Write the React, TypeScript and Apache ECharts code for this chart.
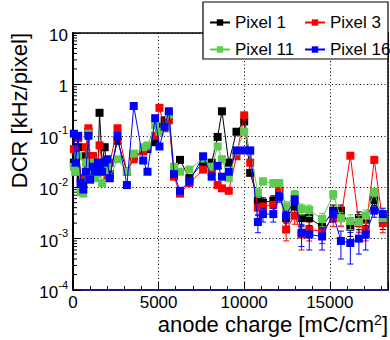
import React, { useEffect, useRef } from "react";
import * as echarts from "echarts";

const seriesNames = ["Pixel 1", "Pixel 3", "Pixel 11", "Pixel 16"];
const seriesColors = ["#000000", "#ff0000", "#5ccb4e", "#0000ff"];

const charge = [
  50, 150, 300, 450, 600, 750, 900, 1000, 1150, 1300, 1450, 1550, 1700, 1850, 2000, 2150,
  2600, 3150, 3550, 4100, 4350, 4800, 5050, 5350, 5600, 5900, 6250, 6800, 7600, 8100, 8450,
  8700, 9100, 9550, 10000, 10350, 10800, 11100, 11700, 12050, 12450, 12950, 13350, 13800,
  14550, 15200, 15650, 16200, 16700, 17100, 17600, 18100,
];

const pixel1 = [
  0.03, 0.025, 0.06, 0.015, 0.012, 0.04, 0.12, 0.03, 0.04, 0.025, 0.02, 0.28, 0.03, 0.06, 0.02, 0.018,
  0.08, 0.02, 0.04, 0.05, 0.055, 0.075, 0.15, 0.2, 0.25, 0.018, 0.034, 0.015, 0.03, 0.03, 0.095,
  0.3, 0.03, 0.12, 0.19, 0.019, 0.0056, 0.005, 0.0055, 0.008, 0.0025, 0.0042, 0.0025, 0.0025,
  0.0017, 0.0035, 0.0035, 0.0017, 0.0025, 0.0023, 0.0056, 0.0023,
];
const pixel3 = [
  0.055, 0.02, 0.09, 0.012, 0.015, 0.06, 0.14, 0.04, 0.04, 0.03, 0.025, 0.065, 0.03, 0.022, 0.015, 0.03,
  0.14, 0.02, 0.035, 0.05, 0.06, 0.1, 0.35, 0.14, 0.2, 0.016, 0.0075, 0.012, 0.022, 0.02, 0.011,
  0.0095, 0.0085, 0.04, 0.25, 0.03, 0.004, 0.0042, 0.0045, 0.0095, 0.0015, 0.0028, 0.0012, 0.0015,
  0.0014, 0.0025, 0.0025, 0.041, 0.002, 0.0015, 0.034, 0.002,
];
const pixel11 = [
  0.025, 0.02, 0.04, 0.008, 0.0075, 0.03, 0.11, 0.02, 0.03, 0.015, 0.018, 0.02, 0.012, 0.02, 0.025, 0.015,
  0.035, 0.02, 0.045, 0.06, 0.065, 0.16, 0.12, 0.15, 0.26, 0.025, 0.02, 0.022, 0.036, 0.025, 0.062,
  0.035, 0.015, 0.05, 0.12, 0.05, 0.0078, 0.013, 0.012, 0.012, 0.0042, 0.0072, 0.0038, 0.0036,
  0.0024, 0.0072, 0.0025, 0.0022, 0.0021, 0.0028, 0.008, 0.0025,
];
const pixel16 = [
  0.11, 0.03, 0.1, 0.012, 0.009, 0.02, 0.1, 0.014, 0.025, 0.02, 0.03, 0.025, 0.02, 0.03, 0.035, 0.015,
  0.1, 0.011, 0.38, 0.033, 0.02, 0.22, 0.062, 0.15, 0.3, 0.018, 0.0085, 0.013, 0.04, 0.016, 0.026,
  0.016, 0.02, 0.052, 0.052, 0.052, 0.0021, 0.003, 0.003, 0.0065, 0.0028, 0.0058, 0.0013, 0.0012,
  0.0011, 0.003, 0.0009, 0.00082, 0.001, 0.0012, 0.0035, 0.003,
];

const err1 = [
  0, 0, 0, 0, 0, 0, 0, 0, 0, 0, 0, 0, 0, 0, 0, 0, 0, 0, 0, 0, 0, 0, 0, 0, 0, 0, 0, 0, 0, 0, 0, 0, 0, 0, 0, 0,
  0.0012, 0.0012, 0.0013, 0.0015, 0.0008, 0.0011, 0.0008, 0.0008, 0.0006, 0.001, 0.001, 0.0006, 0.0008, 0.0008, 0.0013, 0.0008,
];
const err3 = [
  0, 0, 0, 0, 0, 0, 0, 0, 0, 0, 0, 0, 0, 0, 0, 0, 0, 0, 0, 0, 0, 0, 0, 0, 0, 0, 0, 0, 0, 0, 0, 0, 0, 0, 0, 0,
  0.0012, 0.0012, 0.0012, 0.002, 0.0006, 0.0009, 0.0006, 0.0006, 0.0006, 0.0008, 0.0008, 0.004, 0.0007, 0.0006, 0.004, 0.0007,
];
const err11 = [
  0, 0, 0, 0, 0, 0, 0, 0, 0, 0, 0, 0, 0, 0, 0, 0, 0, 0, 0, 0, 0, 0, 0, 0, 0, 0, 0, 0, 0, 0, 0, 0, 0, 0, 0, 0,
  0.0015, 0.002, 0.002, 0.002, 0.001, 0.0014, 0.0009, 0.0009, 0.0007, 0.0014, 0.0007, 0.0007, 0.0007, 0.0008, 0.0015, 0.0007,
];
const err16 = [
  0, 0, 0, 0, 0, 0, 0, 0, 0, 0, 0, 0, 0, 0, 0, 0, 0, 0, 0, 0, 0, 0, 0, 0, 0, 0, 0, 0, 0, 0, 0, 0, 0, 0, 0, 0,
  0.0008, 0.0009, 0.0009, 0.0014, 0.0008, 0.0012, 0.0006, 0.0006, 0.0005, 0.0009, 0.0005, 0.0005, 0.0005, 0.0006, 0.0009, 0.0009,
];

const allValues = [pixel1, pixel3, pixel11, pixel16];
const allErrors = [err1, err3, err11, err16];

const xMin = 0;
const xMax = 18400;
const xInterval = 5000;
const yMin = 0.0001;
const yMax = 10;

const FONT = "'Liberation Sans', Arial, Helvetica, sans-serif";

const minorTickValues: number[] = [];
for (let d = -4; d < 1; d++) {
  for (let k = 2; k <= 9; k++) minorTickValues.push(k * Math.pow(10, d));
}

function yLabel(v: number): string {
  const e = Math.round(Math.log10(v));
  if (e === 1) return "{b|10}";
  if (e === 0) return "{b|1}";
  return `{b|10}{s|${e}}`;
}

export default function App() {
  const ref = useRef<HTMLDivElement>(null);
  useEffect(() => {
    if (!ref.current) return;
    const chart = echarts.init(ref.current, undefined, { renderer: "svg" });

    const lineSeries = seriesNames.map((name, si) => ({
      name,
      type: "line",
      data: charge.map((x, i) => [x, allValues[si][i]]),
      symbol: "rect",
      symbolSize: 8,
      showSymbol: true,
      z: 3 + si,
      lineStyle: { color: seriesColors[si], width: 1 },
      itemStyle: { color: seriesColors[si] },
      emphasis: { disabled: true },
    }));

    const errSeries = seriesNames.map((name, si) => ({
      name: name + " err",
      type: "custom",
      z: 2 + si,
      clip: false,
      data: charge.map((x, i) => [x, allValues[si][i], allErrors[si][i]]),
      encode: { x: 0, y: 1 },
      renderItem: (params: any, api: any) => {
        const x = api.value(0);
        const y = api.value(1);
        const e = api.value(2);
        if (!e) return null;
        const top = api.coord([x, y + e]);
        const bot = api.coord([x, Math.max(y - e, 1.2e-4)]);
        const st = { stroke: seriesColors[si], lineWidth: 1 };
        return {
          type: "group",
          children: [
            { type: "line", shape: { x1: top[0], y1: top[1], x2: bot[0], y2: bot[1] }, style: st },
            { type: "line", shape: { x1: top[0] - 3, y1: top[1], x2: top[0] + 3, y2: top[1] }, style: st },
            { type: "line", shape: { x1: bot[0] - 3, y1: bot[1], x2: bot[0] + 3, y2: bot[1] }, style: st },
          ],
        };
      },
    }));

    const minorTickSeries = {
      name: "minor ticks",
      type: "custom",
      z: 1,
      clip: false,
      silent: true,
      data: minorTickValues.map((v) => [xMin, v]),
      encode: { x: 0, y: 1 },
      renderItem: (params: any, api: any) => {
        const p = api.coord([api.value(0), api.value(1)]);
        return {
          type: "line",
          shape: { x1: p[0], y1: p[1], x2: p[0] + 4, y2: p[1] },
          style: { stroke: "#000", lineWidth: 1 },
        };
      },
    };

    const legendCommon = {
      orient: "vertical",
      top: 9,
      itemGap: 10,
      itemWidth: 20,
      itemHeight: 8,
      z: 20,
      selectedMode: false,
      textStyle: { fontSize: 17, color: "#000", fontFamily: FONT },
    };

    chart.setOption({
      animation: false,
      backgroundColor: "#ffffff",
      textStyle: { fontFamily: FONT },
      grid: {
        left: 73,
        right: 2,
        top: 33,
        bottom: 50,
        show: true,
        borderColor: "#000",
        borderWidth: 1.5,
        backgroundColor: "transparent",
      },
      legend: [
        { ...legendCommon, left: 204, data: ["Pixel 1", "Pixel 11"] },
        { ...legendCommon, left: 299, data: ["Pixel 3", "Pixel 16"] },
      ],
      xAxis: {
        type: "value",
        min: xMin,
        max: xMax,
        interval: xInterval,
        axisLine: { show: true, lineStyle: { color: "#1c1c7a", width: 2 } },
        axisTick: { show: true, inside: true, length: 8, lineStyle: { color: "#000" } },
        minorTick: { show: true, splitNumber: 5, length: 4, lineStyle: { color: "#000" } },
        axisLabel: {
          color: "#000",
          fontSize: 17,
          fontFamily: FONT,
          margin: 4,
          showMaxLabel: false,
          formatter: (v: number) => String(v),
        },
        splitLine: { show: true, lineStyle: { color: "#000", type: [1, 2.5], width: 1 } },
      },
      yAxis: {
        type: "log",
        logBase: 10,
        min: yMin,
        max: yMax,
        axisLine: { show: true, lineStyle: { color: "#000", width: 2 } },
        axisTick: { show: true, inside: true, length: 8, lineStyle: { color: "#000" } },
        axisLabel: {
          color: "#000",
          fontFamily: FONT,
          margin: 5,
          formatter: (v: number) => yLabel(v),
          rich: {
            b: { fontSize: 17, color: "#000", fontFamily: FONT, lineHeight: 22, verticalAlign: "bottom" },
            s: { fontSize: 11, color: "#000", fontFamily: FONT, lineHeight: 22, verticalAlign: "top" },
          },
        },
        splitLine: { show: true, lineStyle: { color: "#000", type: [1, 2.5], width: 1 } },
      },
      graphic: [
        {
          type: "rect",
          z: 15,
          shape: { x: 203, y: 2, width: 185, height: 57 },
          style: { fill: "#fff", stroke: "#000", lineWidth: 1.2 },
        },
        {
          type: "text",
          z: 15,
          x: 19,
          y: 33,
          rotation: Math.PI / 2,
          style: {
            text: "DCR [kHz/pixel]",
            fontSize: 22,
            fontFamily: FONT,
            fill: "#000",
            align: "right",
            verticalAlign: "middle",
          },
        },
        {
          type: "text",
          z: 15,
          x: 388,
          y: 324,
          style: {
            text: "{t|anode charge [mC/cm}{s|2}{t|]}",
            align: "right",
            verticalAlign: "middle",
            rich: {
              t: { fontSize: 22, fontFamily: FONT, fill: "#000", lineHeight: 22, verticalAlign: "bottom" },
              s: { fontSize: 14, fontFamily: FONT, fill: "#000", lineHeight: 22, verticalAlign: "top" },
            },
          },
        },
      ],
      series: [minorTickSeries, ...errSeries, ...lineSeries],
    });

    return () => chart.dispose();
  }, []);

  return (
    <div
      ref={ref}
      style={{ position: "fixed", left: 0, top: 0, width: 390, height: 340, background: "#fff" }}
    />
  );
}
